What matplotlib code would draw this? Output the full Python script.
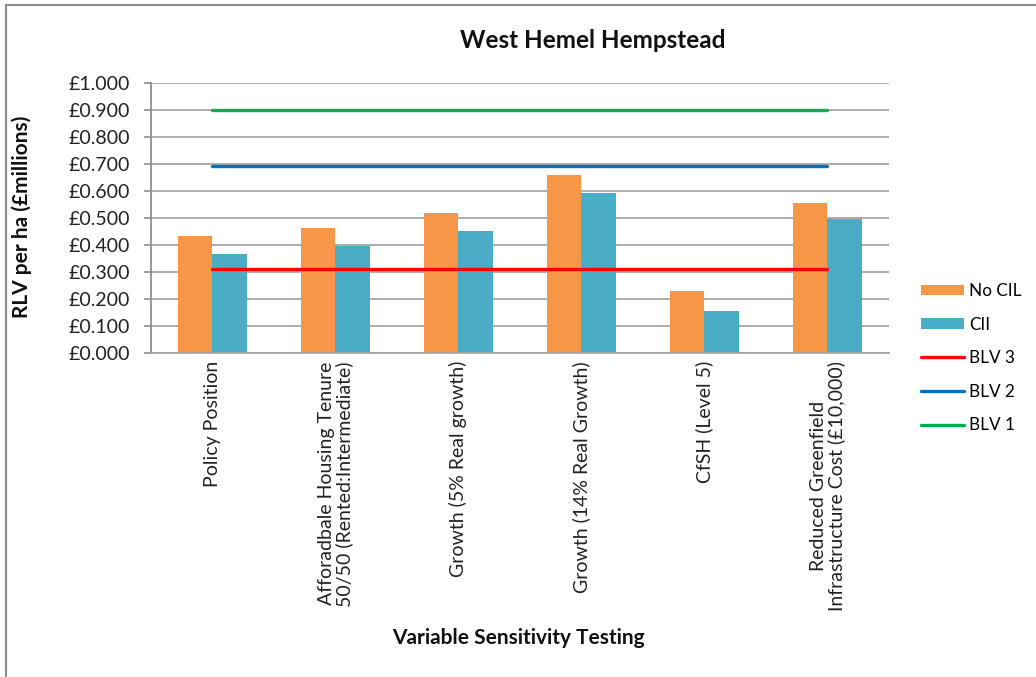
import matplotlib
matplotlib.use("Agg")
import matplotlib.pyplot as plt
from matplotlib.patches import Rectangle, Patch
from matplotlib.lines import Line2D
import numpy as np

plt.rcParams['font.family'] = ['Lato', 'DejaVu Sans']

categories = [
    "Policy Position",
    "Afforadbale Housing Tenure\n50/50 (Rented:Intermediate)",
    "Growth (5% Real growth)",
    "Growth (14% Real Growth)",
    "CfSH (Level 5)",
    "Reduced Greenfield\nInfrastructure Cost (£10,000)",
]
no_cil = [0.432, 0.461, 0.516, 0.659, 0.227, 0.556]
cil = [0.366, 0.396, 0.452, 0.590, 0.153, 0.495]
blv3 = 0.31
blv2 = 0.69
blv1 = 0.90
y_ticks = [0.0, 0.1, 0.2, 0.3, 0.4, 0.5, 0.6, 0.7, 0.8, 0.9, 1.0]

W, H = 1036, 677
fig = plt.figure(figsize=(W / 100, H / 100), dpi=100)
fig.patch.set_facecolor("white")

# outer chart border (only top and left edges fall inside the canvas)
fig.patches.append(Rectangle((6 / W, -0.1), 1.2, 1 - 5 / H + 0.1,
                             transform=fig.transFigure, fill=False,
                             edgecolor="#8c8c8c", linewidth=1.5, zorder=0))

left, right = 150.7 / W, 889 / W
top, bottom = 1 - 82.7 / H, 1 - 352.7 / H
ax = fig.add_axes([left, bottom, right - left, top - bottom])

x = np.arange(len(categories))
w = 0.28
orange = "#F79646"
teal = "#4BACC6"
ax.bar(x - w / 2, no_cil, width=w, color=orange, zorder=2)
ax.bar(x + w / 2, cil, width=w, color=teal, zorder=2)

for val, col in [(blv3, "#FF0000"), (blv2, "#0070C0"), (blv1, "#00B050")]:
    ax.plot([x[0], x[-1]], [val, val], color=col, linewidth=2.4,
            solid_capstyle="round", zorder=3)

ax.set_xlim(-0.5, len(categories) - 0.5)
ax.set_ylim(0, 1.0)
ax.set_yticks(y_ticks)
ax.set_yticklabels([f"£{v:.3f}" for v in y_ticks], fontsize=14, color="#222222")
ax.yaxis.grid(True, color="#a6a6a6", linewidth=1.3, zorder=0)
ax.set_axisbelow(True)
ax.tick_params(axis="y", length=5, width=1.2, color="#909090", pad=10)
ax.tick_params(axis="x", length=0, pad=6)
ax.set_xticks(x)
ax.set_xticklabels(categories, rotation=90, ha="center", va="top",
                   multialignment="center", fontsize=14, linespacing=1.0,
                   color="#222222")

for s in ["top", "right"]:
    ax.spines[s].set_visible(False)
ax.spines["left"].set_color("#909090")
ax.spines["left"].set_linewidth(1.3)
ax.spines["bottom"].set_color("#a6a6a6")
ax.spines["bottom"].set_linewidth(1.3)

fig.text(593 / W, 1 - 40 / H, "West Hemel Hempstead", ha="center", va="center",
         fontsize=17.5, fontweight="bold", color="#111111")
fig.text(518 / W, 1 - 638 / H, "Variable Sensitivity Testing", ha="center",
         va="center", fontsize=15, fontweight="bold", color="#111111")
fig.text(22 / W, 1 - 217 / H, "RLV per ha (£millions)", ha="center",
         va="center", rotation=90, fontsize=15, fontweight="bold", color="#111111")

handles = [
    Patch(facecolor=orange, edgecolor="none"),
    Patch(facecolor=teal, edgecolor="none"),
    Line2D([], [], color="#FF0000", linewidth=2.4, solid_capstyle="round"),
    Line2D([], [], color="#0070C0", linewidth=2.4, solid_capstyle="round"),
    Line2D([], [], color="#00B050", linewidth=2.4, solid_capstyle="round"),
]
labels = ["No CIL", "CII", "BLV 3", "BLV 2", "BLV 1"]
fig.legend(handles, labels, loc="upper left",
           bbox_to_anchor=(921 / W, 1 - 283 / H), frameon=False,
           fontsize=12.3, handlelength=2.5, handleheight=0.6, handletextpad=0.3,
           labelspacing=1.03, borderpad=0, borderaxespad=0)

fig.savefig("out.png", dpi=100, facecolor="white")
